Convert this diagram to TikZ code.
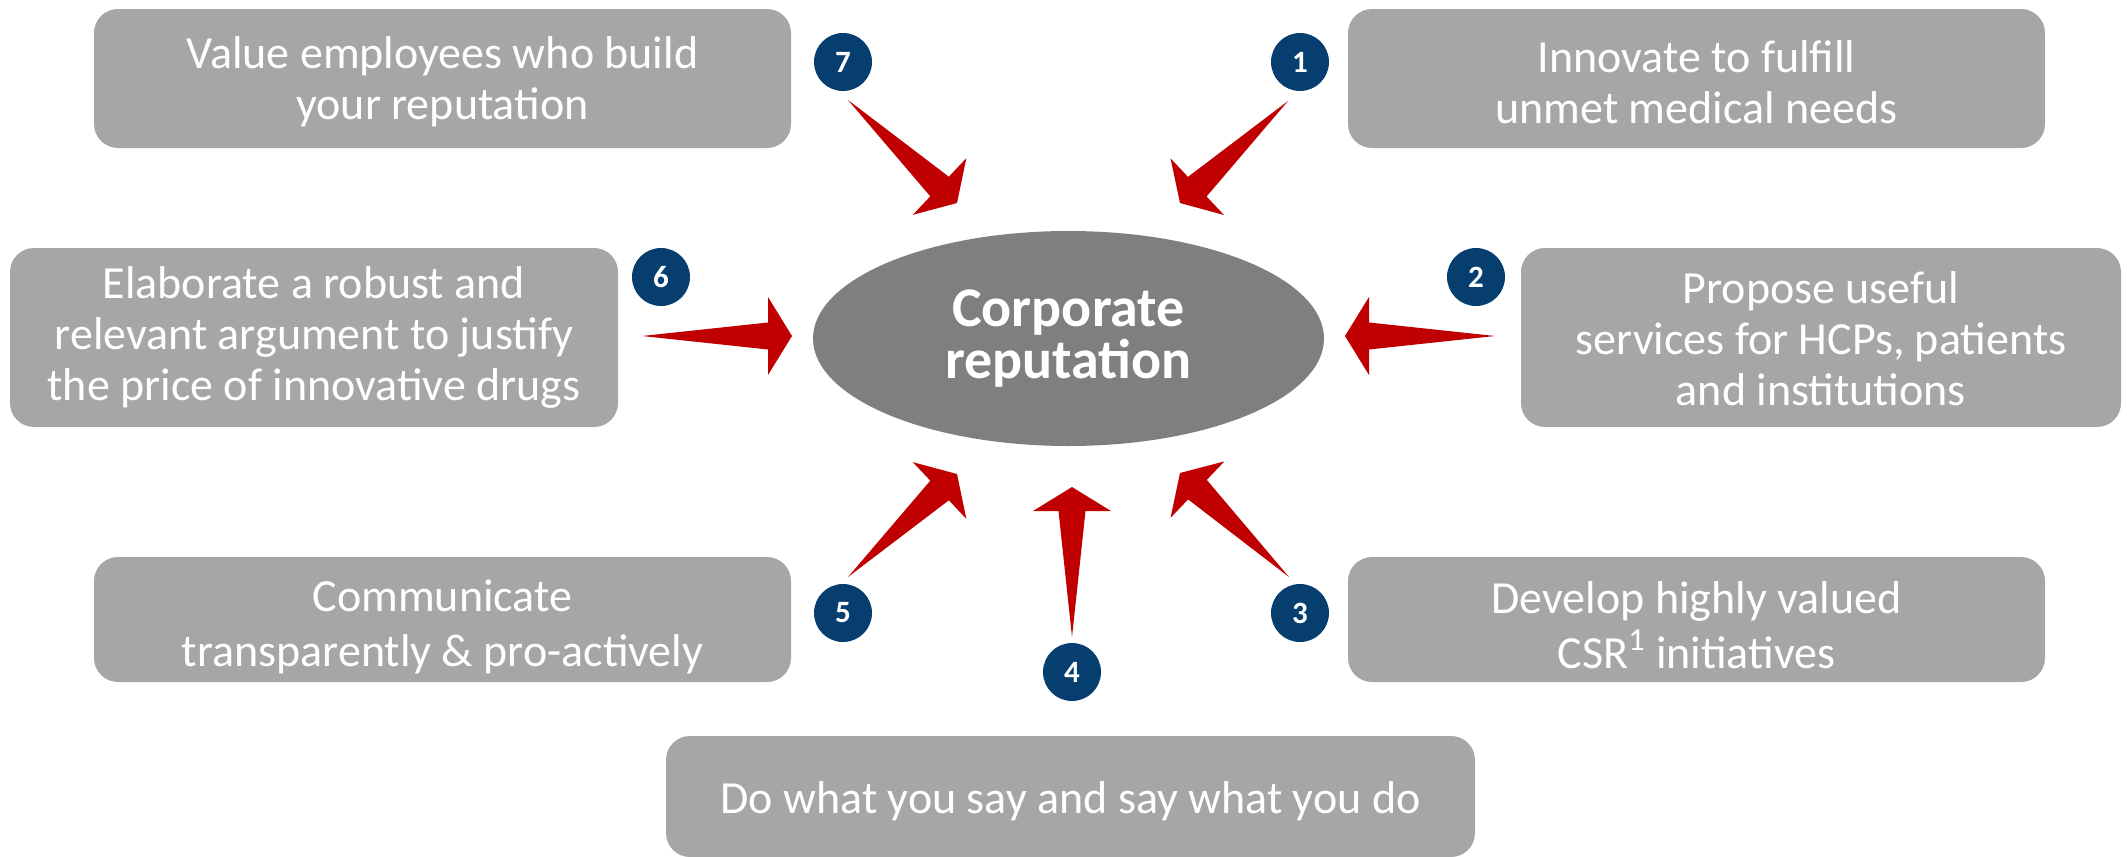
\documentclass[tikz,border=0pt]{standalone}
\usepackage{fontspec}
\setmainfont{Carlito}
\usetikzlibrary{calc,shapes.geometric}
\definecolor{boxgray}{HTML}{A6A6A6}
\definecolor{ellgray}{HTML}{7F7F7F}
\definecolor{numblue}{HTML}{063F6F}
\definecolor{arrred}{HTML}{C00000}
\newcommand\redarrow[2]{%
  \coordinate (#1-b) at ($(#1)!0.84!(#2)$);
  \fill[arrred] (#1) -- ($(#1-b)!6.75pt!90:(#2)$) -- ($(#1-b)!19.5pt!90:(#2)$) -- (#2)
     -- ($(#1-b)!19.5pt!-90:(#2)$) -- ($(#1-b)!6.75pt!-90:(#2)$) -- cycle;}
\tikzset{
  box/.style={fill=boxgray, rounded corners=12pt, inner sep=0pt},
  boxtext/.style={inner sep=0pt, align=center, text=white,
    font=\fontsize{23}{25.5}\selectfont},
  widetext/.style={inner sep=0pt, align=center, text=white,
    font=\fontsize{23}{27.5}\selectfont},
  num/.style={circle, fill=numblue, minimum size=29pt, inner sep=0pt, text=white,
    font=\fontsize{15.5}{16}\selectfont\bfseries},
  core/.style={ellipse, fill=ellgray, minimum width=255.5pt, minimum height=107.5pt, inner sep=0pt,
    align=center, text=white, font=\fontsize{28}{26}\selectfont\bfseries}
}
\begin{document}
\begin{tikzpicture}[x=0.5pt,y=-0.5pt]
\useasboundingbox (0,0) rectangle (2127,857);
% boxes
\node[box, minimum width=348.5pt, minimum height=69.5pt] (b7) at (442.5,78.5) {};
\node[box, minimum width=348.5pt, minimum height=69.5pt] (b1) at (1696.5,78.5) {};
\node[box, minimum width=304pt, minimum height=89.5pt] (b6) at (314,337.5) {};
\node[box, minimum width=300pt, minimum height=89.5pt] (b2) at (1821,337.5) {};
\node[box, minimum width=348.5pt, minimum height=62.5pt] (b5) at (442.5,619.5) {};
\node[box, minimum width=348.5pt, minimum height=62.5pt] (b3) at (1696.5,619.5) {};
\node[box, minimum width=404.5pt, minimum height=60.5pt] (b4) at (1070.5,796.5) {};
% box texts
\node[boxtext] (b7t) at ([yshift=-1.8pt]b7.center) {Value employees who build\\your reputation};
\node[boxtext] (b1t) at ([yshift=-1.8pt]b1.center) {Innovate to fulfill\\unmet medical needs};
\node[boxtext] (b6t) at ([yshift=0pt]b6.center) {Elaborate a robust and\\relevant argument to justify\\the price of innovative drugs};
\node[boxtext] (b2t) at ([yshift=-0.5pt]b2.center) {Propose useful\\services for HCPs, patients\\and institutions};
\node[widetext] (b5t) at ([yshift=-3.5pt]b5.center) {Communicate\\transparently \& pro-actively};
\node[widetext] (b3t) at ([yshift=-3pt]b3.center) {Develop highly valued\\CSR\textsuperscript{1} initiatives};
\node[boxtext] (b4t) at ([yshift=-2.5pt]b4.center) {Do what you say and say what you do};
% number circles
\node[num] (c7) at (843,62) {7};
\node[num] (c1) at (1300,62) {1};
\node[num] (c6) at (661,277) {6};
\node[num] (c2) at (1476,277) {2};
\node[num] (c5) at (843,613) {5};
\node[num] (c3) at (1300,613) {3};
\node[num] (c4) at (1072,672) {4};
% centre
\node[core] (rep) at (1068.5,338.5) {Corporate\\reputation};
% arrows
\coordinate (t7) at (848,100);  \coordinate (h7) at (957,203);
\coordinate (t1) at (1288,101); \coordinate (h1) at (1180,203);
\coordinate (t6) at (642,336);  \coordinate (h6) at (792,336);
\coordinate (t2) at (1495,336); \coordinate (h2) at (1345,336);
\coordinate (t5) at (848,577);  \coordinate (h5) at (957,474);
\coordinate (t3) at (1289,577); \coordinate (h3) at (1180,473);
\coordinate (t4) at (1072,637); \coordinate (h4) at (1072,487);
\redarrow{t7}{h7}
\redarrow{t1}{h1}
\redarrow{t6}{h6}
\redarrow{t2}{h2}
\redarrow{t5}{h5}
\redarrow{t3}{h3}
\redarrow{t4}{h4}
\end{tikzpicture}
\end{document}
